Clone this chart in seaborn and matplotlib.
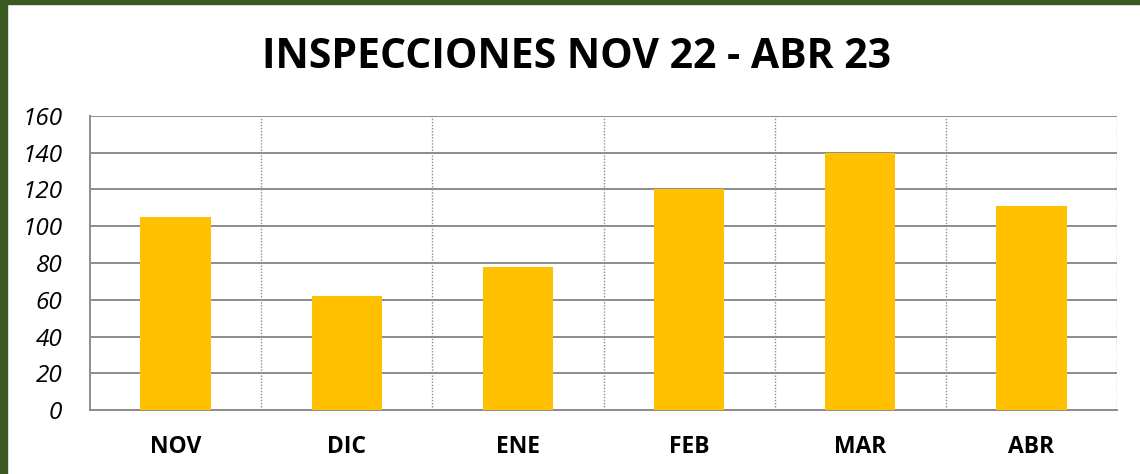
import matplotlib
matplotlib.use("Agg")
import matplotlib.pyplot as plt
import seaborn as sns
import pandas as pd
import numpy as np
from matplotlib.patches import Rectangle

months = ["NOV", "DIC", "ENE", "FEB", "MAR", "ABR"]
inspecciones = [105, 62, 78, 120, 140, 111]
yticks = [0, 20, 40, 60, 80, 100, 120, 140, 160]
title = "INSPECCIONES NOV 22 - ABR 23"

sns.set_theme(style="white")
plt.rcParams["font.family"] = ["Open Sans", "DejaVu Sans"]

df = pd.DataFrame({"mes": months, "valor": inspecciones})

fig = plt.figure(figsize=(11.4, 4.74), dpi=100)
ax = fig.add_axes([90 / 1140, 1 - 410 / 474, (1117 - 90) / 1140, (410 - 116) / 474])

sns.barplot(data=df, x="mes", y="valor", color="#FFC000", width=0.41,
            saturation=1, ax=ax, zorder=3, linewidth=0, edgecolor="none")

grid_c = "#8c8c8c"
ax.set_ylim(0, 160)
ax.set_xlim(-0.5, len(months) - 0.5)
ax.set_yticks(yticks)
ax.set_yticklabels([str(v) for v in yticks], fontsize=17.5, style="italic", color="black")
ax.yaxis.grid(True, color=grid_c, linewidth=1.4, linestyle="-", zorder=0)
ax.set_axisbelow(True)

bounds = np.arange(len(months) + 1) - 0.5
ax.set_xticks(bounds, minor=True)
for b in bounds[1:]:
    ax.axvline(b, color=grid_c, linewidth=1.0, linestyle=(0, (1, 1.2)), zorder=1)
ax.tick_params(axis="x", which="major", length=0, pad=18, labelsize=16.5, labelcolor="black")
ax.tick_params(axis="x", which="minor", length=7, width=1.2, color=grid_c, direction="out")
ax.tick_params(axis="y", which="major", length=7, width=1.2, color=grid_c, direction="out", pad=13)
for lbl in ax.get_xticklabels():
    lbl.set_fontweight("bold")

ax.set_xlabel("")
ax.set_ylabel("")
for s in ["top", "right"]:
    ax.spines[s].set_visible(False)
ax.spines["left"].set_color(grid_c)
ax.spines["left"].set_linewidth(1.4)
ax.spines["bottom"].set_color(grid_c)
ax.spines["bottom"].set_linewidth(1.4)

fig.text(577 / 1140, 1 - 57 / 474, title, ha="center", va="center",
         fontsize=29.5, fontweight="bold", color="black")

# dark green frame at left and top edges
fig.patches.append(Rectangle((0, 0), 7 / 1140, 1, transform=fig.transFigure,
                             color="#3A5A22", zorder=10))
fig.patches.append(Rectangle((0, 1 - 4 / 474), 1, 4 / 474, transform=fig.transFigure,
                             color="#3A5A22", zorder=10))

fig.savefig("out.png", dpi=100, facecolor="white")
